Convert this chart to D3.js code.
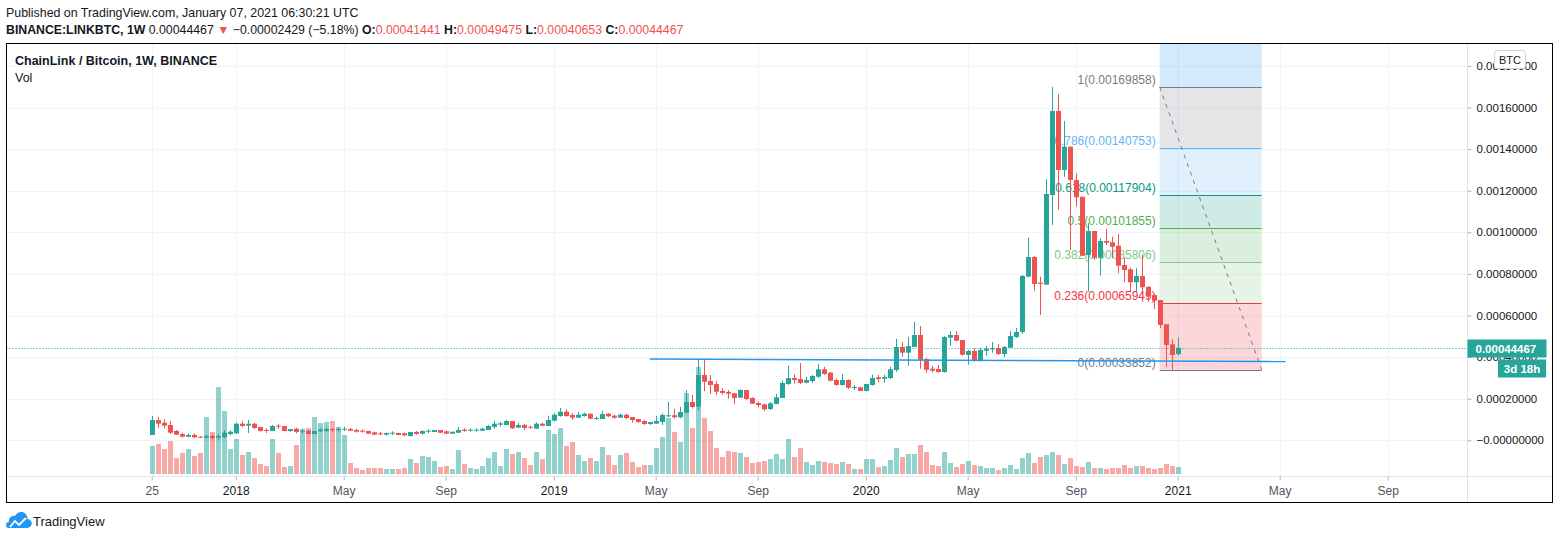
<!DOCTYPE html>
<html><head><meta charset="utf-8">
<script src="https://cdn.jsdelivr.net/npm/d3@7"></script>
<style>
body{margin:0;background:#fff}
svg{display:block}
text{font-family:"Liberation Sans",Arial,sans-serif}
</style>
</head><body>
<svg id="c" width="1560" height="540"></svg>
<script>
// ---------- DATA (prices in satoshi = 1e-8 BTC, weekly bars) ----------
const firstWeek = "2017-09-25";
const openSats = [2548,9760,8462,7356,4471,3029,1731,2548,1731,1250,2067,1250,1442,3029,3366,7981,7020,7981,6395,4952,
4471,7020,6875,4471,5577,4135,4616,3029,4327,4471,5433,4952,5096,5433,4952,4616,4471,3846,3366,2692,
3173,3510,3366,2067,3991,3173,4135,3991,4952,4327,3173,3654,5096,4616,4616,4616,4952,6395,7500,7356,
9279,6058,7356,6539,5577,7981,6875,9424,11683,13751,12164,10866,11683,12789,10241,10241,12789,11828,10866,12308,
11203,10241,9279,7837,7981,8799,11539,12020,11058,13270,18415,16155,31396,28511,27069,23703,23223,22598,20482,24184,
20338,17934,17309,15049,17453,20338,27069,29954,29473,27694,28511,30579,34137,32502,28992,26588,28992,25146,25482,23703,
26588,30290,29617,29954,33800,44858,42118,44858,50628,39089,34425,34281,32838,49330,50628,48224,41012,42935,38608,43080,
43753,44378,41493,44522,49666,52069,78659,88130,75774,74812,117940,158327,129960,141163,125150,117122,89092,100631,87794,95823,
95198,93563,84284,82216,75966,78995,73850,69860,67456,55773,46157,41441];
const highSats = [11683,11203,10097,9279,4952,3654,3366,3366,2067,2548,2885,2885,4808,4808,8462,9279,9760,8462,6395,5770,
7356,7981,6875,5433,6058,5577,4952,4471,5770,6058,5770,6395,6539,5914,5577,5289,4616,4135,3991,3654,
4327,3654,3654,3991,4471,4808,5289,4952,4952,4616,4135,6395,5770,5770,5770,6058,7356,9279,8799,9760,
9279,8462,7837,7020,8654,8462,11828,12982,15530,14905,13126,13606,13270,12789,11347,14087,13126,12308,12789,12789,
11203,10241,9760,8943,11683,12982,18415,15193,16011,24184,21924,38608,39233,31396,28511,25002,24184,22598,24521,24184,
20674,18559,17597,18415,22261,28656,35868,31877,37166,30579,31396,36685,35387,32838,29810,31877,29329,26588,25771,27069,
31540,31396,31540,35387,48705,47262,49666,56878,54954,39714,35868,36204,50147,52551,52551,48224,43416,44378,44378,45339,
47262,46301,45339,52551,53993,79476,97410,88611,78659,125487,169858,166501,153520,141163,128374,117122,104333,100631,97121,101592,
97890,99188,87794,83178,82697,89092,73850,69860,67456,55773,48560,49475];
const lowSats = [2548,6058,5577,3029,2548,1250,1442,1106,1106,769,481,144,1106,2404,3173,6395,3510,5433,4135,3510,
4471,5433,4327,3991,3366,3366,3029,3029,3991,4135,3991,4135,4471,4471,3654,3654,3029,2548,2404,2212,
2548,2404,2067,1731,2692,2692,3366,3991,3510,3173,3173,3510,4135,4135,4135,4616,4952,5577,6539,7356,
5433,6058,4952,5433,5577,6875,6875,9135,11347,11347,9760,10866,11347,10097,9760,10241,11203,10241,10866,10241,
8462,8318,7356,7356,7837,7356,11058,10385,10578,12982,15193,14232,23559,22261,21780,21924,20001,17453,20338,19376,
17453,15866,14087,14568,17309,20338,26588,27213,27069,27406,27550,29954,31396,28367,26252,26252,24521,24184,23703,23559,
26252,27886,27694,29473,32838,40195,35868,44858,34425,32502,32502,32502,32502,45339,47599,40676,36348,37791,37791,40676,
42118,41012,40050,44522,49185,51109,78659,71927,60244,74812,103515,110728,126737,91496,112314,88755,71446,86688,79139,93900,
87505,80293,75966,71158,71158,66638,66638,63128,53849,35098,33852,40653];
const closeSats = [9760,7981,7020,3654,2692,1731,2548,1442,1250,2067,1106,2067,3654,4135,7981,6875,7981,5914,4471,4471,
6875,6539,4471,5433,3991,4616,3029,4471,5289,5433,4952,5433,5577,4616,4135,4135,3173,2692,2885,3510,
3654,2548,2404,3991,3029,4471,4616,4952,3654,3173,4135,4952,4471,5096,5096,5577,6875,7981,8174,9279,
5770,7356,5914,6058,7981,7020,9760,12308,13751,11683,10866,12308,12789,10385,10722,12645,11539,10866,12308,10722,
9760,8799,7837,8799,9279,12164,12020,11058,13606,18415,16011,31396,28175,26588,23367,22742,22405,20338,24184,19857,
17597,16972,14905,17790,20674,27550,29954,28992,27550,28992,30915,34137,31877,28656,26588,28992,25290,25627,23703,27069,
29954,29473,30435,34137,44858,42118,45339,50628,38753,33944,33463,32838,49666,50628,47887,41157,42935,38608,43416,44041,
44378,41493,44858,50147,52069,78995,88130,75149,75149,118421,158327,129960,141163,125150,116834,88755,100631,87794,95823,95006,
93083,83947,81880,75966,78995,73562,69379,67119,55436,45820,41012,44467];
const volumeRel = [28,30,25,33,16,21,25,18,21,57,42,87,63,25,35,19,22,16,10,8,
35,21,7,8,29,45,46,57,51,52,53,47,39,11,6,4,6,6,6,5,
5,5,6,15,11,18,17,13,7,8,5,24,10,6,5,8,16,22,8,25,
20,22,16,9,22,15,44,40,46,28,32,19,13,16,13,27,19,9,19,21,
12,7,9,9,26,37,56,42,32,81,46,107,56,43,26,17,23,22,21,17,
11,12,13,15,20,15,35,17,26,12,9,13,12,11,10,12,10,5,5,15,
15,7,8,14,26,17,20,20,29,22,9,8,22,11,7,10,13,9,8,6,
6,4,6,9,5,16,21,11,17,19,22,19,10,16,8,7,12,6,6,5,
6,6,9,6,8,8,6,5,6,10,8,7];

const priceTicks = [0,0.0002,0.0004,0.0006,0.0008,0.0010,0.0012,0.0014,0.0016,0.0018];
const priceTickLabels = ["\u22120.00000000","0.00020000","0.00040000","0.00060000","0.00080000","0.00100000","0.00120000","0.00140000","0.00160000","0.00180000"];
const timeTickDates = ["2017-09-25","2018-01-01","2018-05-07","2018-09-03","2019-01-07","2019-05-06","2019-09-02","2020-01-06","2020-05-04","2020-09-07","2021-01-04","2021-05-03","2021-09-06"];
const timeTickLabels = ["25","2018","May","Sep","2019","May","Sep","2020","May","Sep","2021","May","Sep"];

const lastPrice = 0.00044467;
const countdown = "3d 18h";
const fibLow = 0.00033852, fibHigh = 0.00169858;
const fibStart = "2020-12-14", fibEnd = "2021-04-12";
const fibLevels = [0,0.236,0.382,0.5,0.618,0.786,1,1.618];
const fibLevelNames = ["0","0.236","0.382","0.5","0.618","0.786","1","1.618"];
const fibColors = ["#787b86","#f23645","#81c784","#4caf50","#089981","#64b5f6","#787b86","#2196f3"];
const hLineDates = ["2019-04-29","2021-05-10"];
const hLinePrices = [0.00039089,0.00037887];

// ---------- LAYOUT ----------
const svg = d3.select("#c");
const L=6.5, T=43.5, R=1467.5, B=476.5, RB=1552.5, BB=502.5;
const parse = d3.utcParse("%Y-%m-%d");
const weeks = openSats.map((_, i) => d3.utcDay.offset(parse(firstWeek), 7*i));
const sat = v => v/1e8;

const x = d3.scaleUtc().domain([parse("2018-01-01"), parse("2021-01-04")]).range([235.7, 1177.7]);
const y = d3.scaleLinear().domain([0, 0.0016]).range([440.3, 107.5]);
const yv = d3.scaleLinear().domain([0, 107]).range([474, 367]);

const UP="#26a69a", DOWN="#ef5350";

svg.append("rect").attr("width",1560).attr("height",540).attr("fill","#fff");
const defs = svg.append("defs");
defs.append("clipPath").attr("id","clip").append("rect")
  .attr("x",L).attr("y",T).attr("width",R-L).attr("height",B-T);

// grid
const grid = svg.append("g").attr("clip-path","url(#clip)");
grid.selectAll("line.h").data(priceTicks).join("line")
  .attr("x1",L).attr("x2",R).attr("y1",d=>Math.round(y(d))+0.5).attr("y2",d=>Math.round(y(d))+0.5)
  .attr("stroke","#f0f3fa");
grid.selectAll("line.v").data(timeTickDates).join("line")
  .attr("y1",T).attr("y2",B).attr("x1",d=>Math.round(x(parse(d)))+0.5).attr("x2",d=>Math.round(x(parse(d)))+0.5)
  .attr("stroke","#f0f3fa");

const plot = svg.append("g").attr("clip-path","url(#clip)");

// fib fills
const fx0 = x(parse(fibStart)), fx1 = x(parse(fibEnd));
const fibPrice = l => fibLow + l*(fibHigh-fibLow);
for (let i=0;i<fibLevels.length-1;i++){
  const yA = y(fibPrice(fibLevels[i])), yB = y(fibPrice(fibLevels[i+1]));
  plot.append("rect").attr("x",fx0).attr("width",fx1-fx0).attr("y",yB).attr("height",yA-yB)
    .attr("fill",fibColors[i+1]).attr("fill-opacity",0.2);
}

// volume
plot.selectAll("rect.vol").data(weeks).join("rect")
  .attr("x",(d)=>Math.round(x(d))-2).attr("width",5)
  .attr("y",(d,i)=>yv(volumeRel[i])).attr("height",(d,i)=>yv(0)-yv(volumeRel[i]))
  .attr("fill",(d,i)=>closeSats[i]>=openSats[i]?UP:DOWN).attr("fill-opacity",0.5);

// fib lines + labels
fibLevels.forEach((l,i)=>{
  const yy = Math.round(y(fibPrice(l)))+0.5;
  plot.append("line").attr("x1",fx0).attr("x2",fx1).attr("y1",yy).attr("y2",yy)
    .attr("stroke",fibColors[i]).attr("stroke-width",1);
  if (l<=1) plot.append("text").attr("x",fx0-4).attr("y",yy-3.5).attr("text-anchor","end")
    .attr("font-size",12).attr("fill",fibColors[i])
    .text(`${fibLevelNames[i]}(${fibPrice(l).toFixed(8)})`);
});

// candles
const cg = plot.append("g");
weeks.forEach((d,i)=>{
  const cx = Math.round(x(d));
  const o=sat(openSats[i]), c=sat(closeSats[i]), h=sat(highSats[i]), lo=sat(lowSats[i]);
  const col = c>=o?UP:DOWN;
  cg.append("line").attr("x1",cx+0.5).attr("x2",cx+0.5).attr("y1",y(h)).attr("y2",y(lo))
    .attr("stroke",col).attr("stroke-width",1);
  const top=Math.min(y(o),y(c)), bh=Math.max(1,Math.abs(y(o)-y(c)));
  cg.append("rect").attr("x",cx-2).attr("width",5).attr("y",top).attr("height",bh).attr("fill",col);
});

// fib trend dashed line
plot.append("line").attr("x1",fx0).attr("y1",y(fibHigh)).attr("x2",fx1).attr("y2",y(fibLow))
  .attr("stroke","#787b86").attr("stroke-dasharray","4 5").attr("stroke-width",1);

// horizontal support line
plot.append("line")
  .attr("x1",x(parse(hLineDates[0]))).attr("y1",y(hLinePrices[0]))
  .attr("x2",x(parse(hLineDates[1]))).attr("y2",y(hLinePrices[1]))
  .attr("stroke","#2196f3").attr("stroke-width",1.5);

// last price dotted line
const yl = Math.round(y(lastPrice))+0.5;
svg.append("line").attr("x1",L).attr("x2",R).attr("y1",yl).attr("y2",yl)
  .attr("stroke",UP).attr("stroke-dasharray","1 2");

// frame lines
svg.append("line").attr("x1",L).attr("x2",RB).attr("y1",B).attr("y2",B).attr("stroke","#e0e3eb");
svg.append("line").attr("x1",R).attr("x2",R).attr("y1",T).attr("y2",BB).attr("stroke","#e0e3eb");
svg.append("rect").attr("x",L).attr("y",T).attr("width",RB-L).attr("height",BB-T)
  .attr("fill","none").attr("stroke","#000").attr("stroke-width",1);

// price axis
const yAxis = d3.axisRight(y).tickValues(priceTicks).tickFormat((d,i)=>priceTickLabels[i]).tickSize(4).tickPadding(5);
const ya = svg.append("g").attr("transform",`translate(${R},0)`).call(yAxis);
ya.select(".domain").remove();
ya.selectAll(".tick line").attr("stroke","#b2b5be");
ya.selectAll(".tick text").attr("font-size",11.5).attr("fill","#131722").attr("font-family","Liberation Sans, Arial, sans-serif");

// time axis
const xAxis = d3.axisBottom(x).tickValues(timeTickDates.map(parse)).tickFormat((d,i)=>timeTickLabels[i]).tickSize(4).tickPadding(6);
const xa = svg.append("g").attr("transform",`translate(0,${B})`).call(xAxis);
xa.select(".domain").remove();
xa.selectAll(".tick line").attr("stroke","#b2b5be");
xa.selectAll(".tick text").attr("font-size",12).attr("font-family","Liberation Sans, Arial, sans-serif")
  .attr("fill",(d,i)=>/^\d{4}$/.test(timeTickLabels[i])?"#131722":"#50535e");

// last price label
svg.append("rect").attr("x",R).attr("y",yl-9).attr("width",79).attr("height",18).attr("fill",UP);
svg.append("text").attr("x",R+8).attr("y",yl+4.5).attr("font-size",11.5).attr("fill","#fff").attr("font-weight","bold")
  .text(lastPrice.toFixed(8));
svg.append("rect").attr("x",1498).attr("y",yl+11).attr("width",48).attr("height",18).attr("fill",UP);
svg.append("text").attr("x",1522).attr("y",yl+24.5).attr("text-anchor","middle").attr("font-size",11.5)
  .attr("fill","#fff").attr("font-weight","bold").text(countdown);

// BTC button
svg.append("rect").attr("x",1494.5).attr("y",50.5).attr("width",31).attr("height",18).attr("rx",3)
  .attr("fill","#fff").attr("stroke","#d1d4dc");
svg.append("text").attr("x",1510).attr("y",63.5).attr("text-anchor","middle").attr("font-size",11).attr("fill","#131722").text("BTC");

// header
svg.append("text").attr("x",6).attr("y",17).attr("font-size",12.4).attr("fill","#131722")
  .text("Published on TradingView.com, January 07, 2021 06:30:21 UTC");
const h2 = svg.append("text").attr("x",6).attr("y",34).attr("font-size",12.3).attr("fill","#131722");
h2.append("tspan").attr("font-weight","bold").text("BINANCE:LINKBTC, 1W");
h2.append("tspan").text("\u00a00.00044467\u00a0");
h2.append("tspan").attr("fill","#ef5350").text("\u25BC");
h2.append("tspan").text("\u00a0\u22120.00002429 (\u22125.18%)\u00a0");
[["O:","0.00041441"],["H:","0.00049475"],["L:","0.00040653"],["C:","0.00044467"]].forEach(([k,v],i)=>{
  h2.append("tspan").attr("font-weight","bold").text((i?"\u00a0":"")+k);
  h2.append("tspan").attr("fill","#ef5350").text(v);
});

// legend inside plot
svg.append("text").attr("x",15).attr("y",65).attr("font-size",12.5).attr("font-weight","bold").attr("fill","#131722")
  .text("ChainLink / Bitcoin, 1W, BINANCE");
svg.append("text").attr("x",15).attr("y",82).attr("font-size",12.5).attr("fill","#131722").text("Vol");

// TradingView logo
const lg = svg.append("g");
lg.append("path").attr("d","M9,528 L27,528 A4.5,4.5 0 0 0 27.5,519 A6.5,6.5 0 0 0 15,516 A5,5 0 0 0 9,522 A3,3 0 0 0 9,528 Z")
  .attr("fill","#2196f3");
lg.append("path").attr("d","M10,527 L15,521 L19,525 L26,518").attr("fill","none").attr("stroke","#fff").attr("stroke-width",1.8);
svg.append("text").attr("x",33).attr("y",526).attr("font-size",13).attr("fill","#131722").text("TradingView");
</script>
</body></html>
